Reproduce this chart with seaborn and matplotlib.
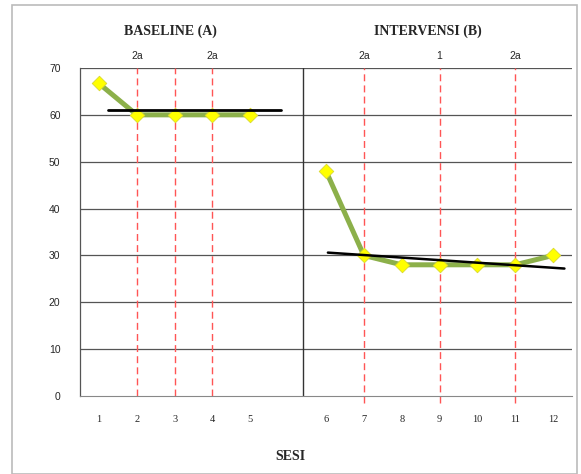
import matplotlib
matplotlib.use("Agg")
import matplotlib.pyplot as plt
import seaborn as sns
import pandas as pd
from matplotlib.patches import Rectangle

# data
baseline_sessions = [1, 2, 3, 4, 5]
baseline_values = [66.7, 60, 60, 60, 60]
intervensi_sessions = [6, 7, 8, 9, 10, 11, 12]
intervensi_values = [48, 30, 28, 28, 28, 28, 30]

# trend lines (position on the axis, value)
baseline_trend_x = [0.25, 4.8]
baseline_trend_y = [61, 61]
intervensi_trend_x = [6.05, 12.3]
intervensi_trend_y = [30.6, 27.2]

# notes on top of the chart
note_sessions = [2, 4, 7, 9, 11]
note_labels = ["2a", "2a", "2a", "1", "2a"]
dashed_sessions = [2, 3, 4, 7, 9, 11]

tick_labels = ["1", "2", "3", "4", "5", "", "6", "7", "8", "9", "10", "11", "12"]


def pos(s):
    # an empty slot sits between session 5 and 6
    return s - 1 if s <= 5 else s


sns.set_style("white")
plt.rcParams['font.family'] = ['Liberation Serif', 'DejaVu Serif']

fig = plt.figure(figsize=(5.81, 4.74), dpi=100)
ax = fig.add_axes([80 / 581, 1 - 396 / 474, 492 / 581, 328 / 474])

green = "#8CB04A"
df_a = pd.DataFrame({"x": [pos(s) for s in baseline_sessions], "y": baseline_values})
df_b = pd.DataFrame({"x": [pos(s) for s in intervensi_sessions], "y": intervensi_values})

for y in range(10, 71, 10):
    ax.axhline(y, color="#555555", lw=0.9, zorder=1)

for s in dashed_sessions:
    ax.axvline(pos(s), ymin=-0.02 if s > 5 else 0, color="#FF5555", lw=1.0,
               ls=(0, (5, 3)), zorder=1, clip_on=False)

ax.axvline(5.4, color="#333333", lw=1.0, zorder=1)

for d in (df_a, df_b):
    sns.lineplot(data=d, x="x", y="y", ax=ax, color=green, lw=3.6, zorder=3)
    sns.scatterplot(data=d, x="x", y="y", ax=ax, marker="D", s=55, color="#FFFF00",
                    edgecolor="#D8D830", linewidth=0.6, zorder=4)

ax.plot(baseline_trend_x, baseline_trend_y, color="black", lw=2, zorder=5)
ax.plot(intervensi_trend_x, intervensi_trend_y, color="black", lw=1.8, zorder=5)

ax.set_xlim(-0.5, 12.5)
ax.set_ylim(0, 70)
ax.set_xticks(range(len(tick_labels)))
ax.set_xticklabels(tick_labels, fontsize=7.5)
ax.set_yticks(range(0, 71, 10))
ax.set_yticklabels([str(v) for v in range(0, 71, 10)], fontsize=7.5,
                   family=["Liberation Sans", "DejaVu Sans"])
ax.tick_params(axis="x", length=0, pad=14)
ax.tick_params(axis="y", length=0, pad=14)
ax.set_xlabel("")
ax.set_ylabel("")

for side in ["top", "right"]:
    ax.spines[side].set_visible(False)
ax.spines["left"].set_color("#555555")
ax.spines["bottom"].set_color("#888888")
ax.spines["left"].set_linewidth(0.9)

for s, lab in zip(note_sessions, note_labels):
    ax.text(pos(s), 71.5, lab, ha="center", va="bottom", fontsize=7.5,
            family=["Liberation Sans", "DejaVu Sans"])

ax.text(1.9, 76.5, "BASELINE (A)", ha="center", va="bottom", fontsize=10, fontweight="bold")
ax.text(8.7, 76.5, "INTERVENSI (B)", ha="center", va="bottom", fontsize=10, fontweight="bold")

fig.text(290 / 581, 1 - 456 / 474, "SESI", ha="center", va="center", fontsize=10,
         fontweight="bold")

fig.patches.append(Rectangle((12 / 581, 0), 565 / 581, 1 - 5 / 474, transform=fig.transFigure,
                             fill=False, edgecolor="#BBBBBB", lw=1.2))

fig.savefig("out.png", dpi=100)
